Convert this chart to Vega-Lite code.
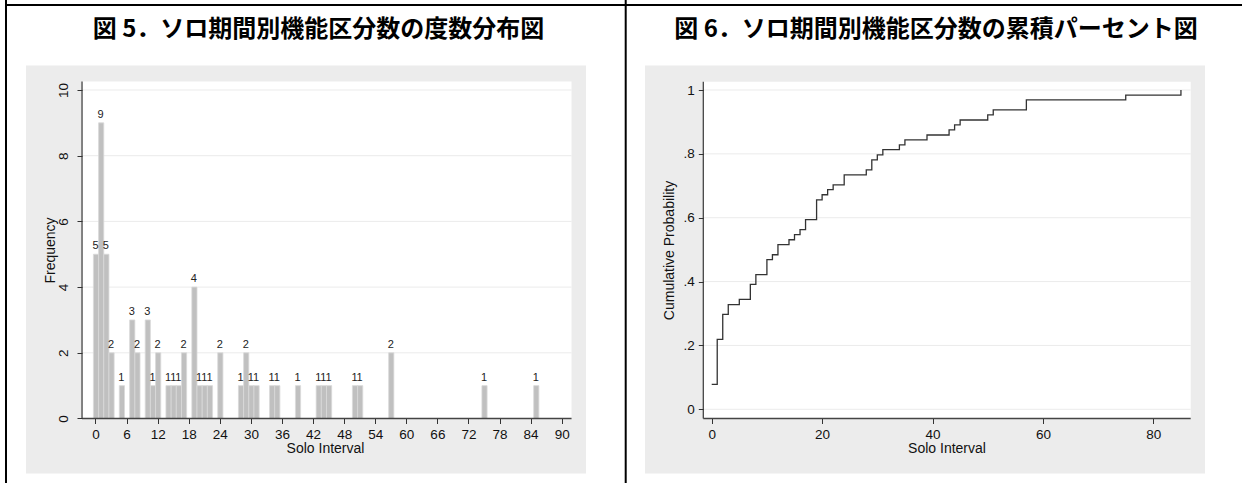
{
  "$schema": "https://vega.github.io/schema/vega-lite/v6.json",
  "background": "white",
  "autosize": {"type": "none"},
  "padding": 0,
  "width": 1242,
  "height": 483,
  "config": {
    "view": {"stroke": null},
    "axis": {"domain": false, "grid": false, "labelFont": "Liberation Sans", "labelFontSize": 13.5, "labelColor": "#111111", "tickColor": "#333333", "tickSize": 5, "tickWidth": 1, "titleFont": "Liberation Sans", "titleFontSize": 14, "titleFontWeight": "normal", "titleColor": "#111111"},
    "text": {"font": "Liberation Sans"}
  },
  "resolve": {"scale": {"x": "independent", "y": "independent"}, "axis": {"x": "independent", "y": "independent"}},
  "layer": [
    {
      "data": {"values": [
        {"interval": 0, "count": 5}, {"interval": 1, "count": 9}, {"interval": 2, "count": 5}, {"interval": 3, "count": 2},
        {"interval": 5, "count": 1}, {"interval": 7, "count": 3}, {"interval": 8, "count": 2}, {"interval": 10, "count": 3},
        {"interval": 11, "count": 1}, {"interval": 12, "count": 2}, {"interval": 14, "count": 1}, {"interval": 15, "count": 1},
        {"interval": 16, "count": 1}, {"interval": 17, "count": 2}, {"interval": 19, "count": 4}, {"interval": 20, "count": 1},
        {"interval": 21, "count": 1}, {"interval": 22, "count": 1}, {"interval": 24, "count": 2}, {"interval": 28, "count": 1},
        {"interval": 29, "count": 2}, {"interval": 30, "count": 1}, {"interval": 31, "count": 1}, {"interval": 34, "count": 1},
        {"interval": 35, "count": 1}, {"interval": 39, "count": 1}, {"interval": 43, "count": 1}, {"interval": 44, "count": 1},
        {"interval": 45, "count": 1}, {"interval": 50, "count": 1}, {"interval": 51, "count": 1}, {"interval": 57, "count": 2},
        {"interval": 75, "count": 1}, {"interval": 85, "count": 1}
      ]},
      "layer": [
        {
          "data": {"values": [{}]},
          "mark": {"type": "rect", "fill": "#ececec"},
          "encoding": {
            "x": {"datum": -13.417, "type": "quantitative",
                  "scale": {"domain": [-18.436, 221.33], "nice": false, "zero": false},
                  "axis": {"zindex": 2, "orient": "bottom", "title": "Solo Interval", "values": [0, 6, 12, 18, 24, 30, 36, 42, 48, 54, 60, 66, 72, 78, 84, 90], "offset": -64.5, "labelPadding": 4, "titleX": 325, "titleY": 30, "titleBaseline": "middle", "titleAlign": "center"}},
            "x2": {"datum": 94.691},
            "y": {"datum": -1.6743, "type": "quantitative",
                  "scale": {"domain": [-1.9635, 12.7397], "nice": false, "zero": false},
                  "axis": {"zindex": 2, "orient": "left", "title": "Frequency", "values": [0, 2, 4, 6, 8, 10], "offset": -82, "labelAngle": -90, "labelAlign": "center", "labelBaseline": "alphabetic", "labelPadding": 10, "titleX": -32, "titleY": 250, "titleAngle": -90, "titleBaseline": "middle", "titleAlign": "center"}},
            "y2": {"datum": 10.7458}
          }
        },
        {
          "data": {"values": [{}]},
          "mark": {"type": "rect", "fill": "#ffffff"},
          "encoding": {"x": {"datum": -2.6}, "x2": {"datum": 91.9}, "y": {"datum": 0}, "y2": {"datum": 10.26}}
        },
        {
          "data": {"values": [{"g": 2}, {"g": 4}, {"g": 6}, {"g": 8}, {"g": 10}]},
          "mark": {"type": "rule", "color": "#ebebeb", "strokeWidth": 1},
          "encoding": {"y": {"field": "g", "type": "quantitative"}, "x": {"datum": -2.6}, "x2": {"datum": 91.9}}
        },
        {
          "mark": {"type": "bar", "fill": "#c0c0c0", "stroke": "#d9d9d9", "strokeWidth": 0.8, "binSpacing": 0},
          "encoding": {
            "x": {"field": "interval", "type": "quantitative", "bin": {"step": 1, "extent": [-0.5, 89.5], "nice": false}},
            "y": {"field": "count", "type": "quantitative", "aggregate": "sum"}
          }
        },
        {
          "mark": {"type": "text", "baseline": "alphabetic", "dy": -5, "fontSize": 11, "color": "#222222"},
          "encoding": {
            "x": {"field": "interval", "type": "quantitative"},
            "y": {"field": "count", "type": "quantitative"},
            "text": {"field": "count", "type": "quantitative"}
          }
        },
        {
          "data": {"values": [{}]},
          "mark": {"type": "rule", "color": "#444444", "strokeWidth": 1.3},
          "encoding": {"x": {"datum": -2.6}, "x2": {"datum": 91.9}, "y": {"datum": 0}}
        },
        {
          "data": {"values": [{}]},
          "mark": {"type": "rule", "color": "#444444", "strokeWidth": 1.3},
          "encoding": {"x": {"datum": -2.6}, "y": {"datum": 0}, "y2": {"datum": 10.26}}
        },
        {
          "data": {"values": [{}]},
          "mark": {"type": "rule", "color": "#000000", "strokeWidth": 2},
          "encoding": {"x": {"datum": -17.278}, "y": {"datum": 12.7397}, "y2": {"datum": -1.9635}}
        },
        {
          "data": {"values": [{}]},
          "mark": {"type": "rule", "color": "#000000", "strokeWidth": 2},
          "encoding": {"x": {"datum": 102.355}, "y": {"datum": 12.7397}, "y2": {"datum": -1.9635}}
        },
        {
          "data": {"values": [{}]},
          "mark": {"type": "rule", "color": "#000000", "strokeWidth": 2},
          "encoding": {"x": {"datum": -17.471}, "x2": {"datum": 221.33}, "y": {"datum": 12.5875}}
        },
        {
          "data": {"values": [{"t": "図 5．ソロ期間別機能区分数の度数分布図"}]},
          "mark": {"type": "text", "font": "Noto Sans CJK JP", "fontWeight": "bold", "fontSize": 24, "align": "center", "baseline": "middle", "color": "#000000"},
          "encoding": {"x": {"datum": 43.05}, "y": {"datum": 11.826}, "text": {"field": "t", "type": "nominal"}}
        }
      ]
    },
    {
      "data": {"values": [
        {"interval": 0, "cum": 0.078}, {"interval": 1, "cum": 0.219}, {"interval": 2, "cum": 0.297}, {"interval": 3, "cum": 0.328},
        {"interval": 5, "cum": 0.344}, {"interval": 7, "cum": 0.391}, {"interval": 8, "cum": 0.422}, {"interval": 10, "cum": 0.469},
        {"interval": 11, "cum": 0.484}, {"interval": 12, "cum": 0.516}, {"interval": 14, "cum": 0.531}, {"interval": 15, "cum": 0.547},
        {"interval": 16, "cum": 0.563}, {"interval": 17, "cum": 0.594}, {"interval": 19, "cum": 0.656}, {"interval": 20, "cum": 0.672},
        {"interval": 21, "cum": 0.688}, {"interval": 22, "cum": 0.703}, {"interval": 24, "cum": 0.734}, {"interval": 28, "cum": 0.75},
        {"interval": 29, "cum": 0.781}, {"interval": 30, "cum": 0.797}, {"interval": 31, "cum": 0.813}, {"interval": 34, "cum": 0.828},
        {"interval": 35, "cum": 0.844}, {"interval": 39, "cum": 0.859}, {"interval": 43, "cum": 0.875}, {"interval": 44, "cum": 0.891},
        {"interval": 45, "cum": 0.906}, {"interval": 50, "cum": 0.922}, {"interval": 51, "cum": 0.938}, {"interval": 57, "cum": 0.969},
        {"interval": 75, "cum": 0.984}, {"interval": 85, "cum": 1.0}
      ]},
      "layer": [
        {
          "data": {"values": [{}]},
          "mark": {"type": "rect", "fill": "#ececec"},
          "encoding": {
            "x": {"datum": -12.083, "type": "quantitative",
                  "scale": {"domain": [-128.92, 96.06], "nice": false, "zero": false},
                  "axis": {"zindex": 2, "orient": "bottom", "title": "Solo Interval", "values": [0, 20, 40, 60, 80], "offset": -64.5, "labelPadding": 4, "titleX": 946.5, "titleY": 30, "titleBaseline": "middle", "titleAlign": "center"}},
            "x2": {"datum": 89.365},
            "y": {"datum": -0.20106, "type": "quantitative",
                  "scale": {"domain": [-0.23082, 1.28187], "nice": false, "zero": false},
                  "axis": {"zindex": 2, "orient": "left", "title": "Cumulative Probability", "values": [0, 0.2, 0.4, 0.6, 0.8, 1], "offset": -703.3, "labelPadding": 4, "labelExpr": "datum.value == 0 ? '0' : datum.value == 1 ? '1' : replace(format(datum.value, '.1f'), '0.', '.')", "titleX": -34.3, "titleY": 250, "titleAngle": -90, "titleBaseline": "middle", "titleAlign": "center"}},
            "y2": {"datum": 1.07673}
          }
        },
        {
          "data": {"values": [{}]},
          "mark": {"type": "rect", "fill": "#ffffff"},
          "encoding": {"x": {"datum": -1.52}, "x2": {"datum": 86.77}, "y": {"datum": -0.0288}, "y2": {"datum": 1.026}}
        },
        {
          "data": {"values": [{"g": 0}, {"g": 0.2}, {"g": 0.4}, {"g": 0.6}, {"g": 0.8}, {"g": 1}]},
          "mark": {"type": "rule", "color": "#ebebeb", "strokeWidth": 1},
          "encoding": {"y": {"field": "g", "type": "quantitative"}, "x": {"datum": -1.52}, "x2": {"datum": 86.77}}
        },
        {
          "mark": {"type": "line", "interpolate": "step-after", "color": "#333333", "strokeWidth": 1.3},
          "encoding": {
            "x": {"field": "interval", "type": "quantitative"},
            "y": {"field": "cum", "type": "quantitative"}
          }
        },
        {
          "data": {"values": [{}]},
          "mark": {"type": "rule", "color": "#444444", "strokeWidth": 1.3},
          "encoding": {"x": {"datum": -1.52}, "x2": {"datum": 86.77}, "y": {"datum": -0.0288}}
        },
        {
          "data": {"values": [{}]},
          "mark": {"type": "rule", "color": "#444444", "strokeWidth": 1.3},
          "encoding": {"x": {"datum": -1.52}, "y": {"datum": -0.0288}, "y2": {"datum": 1.026}}
        },
        {
          "data": {"values": [{"t": "図 6．ソロ期間別機能区分数の累積パーセント図"}]},
          "mark": {"type": "text", "font": "Noto Sans CJK JP", "fontWeight": "bold", "fontSize": 24, "align": "center", "baseline": "middle", "color": "#000000"},
          "encoding": {"x": {"datum": 40.63}, "y": {"datum": 1.1879}, "text": {"field": "t", "type": "nominal"}}
        }
      ]
    }
  ]
}
